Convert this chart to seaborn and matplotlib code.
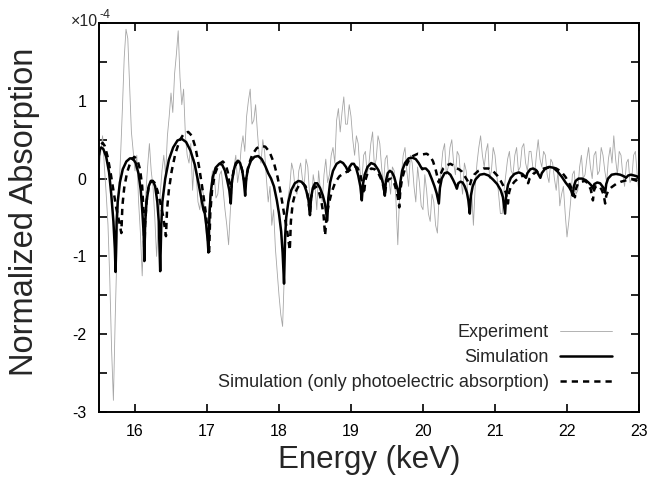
import numpy as np
import pandas as pd
import matplotlib
matplotlib.use('Agg')
import matplotlib.pyplot as plt
import seaborn as sns

# ------------------------------------------------------------
# Data (y values in units of 1e-4)
# ------------------------------------------------------------
exp_energy = [
    15.500, 15.525, 15.550, 15.575, 15.600, 15.625, 15.650, 15.675, 15.700, 15.725,
    15.750, 15.775, 15.800, 15.825, 15.850, 15.875, 15.900, 15.925, 15.950, 15.975,
    16.000, 16.025, 16.050, 16.075, 16.100, 16.125, 16.150, 16.175, 16.200, 16.225,
    16.250, 16.275, 16.300, 16.325, 16.350, 16.375, 16.400, 16.425, 16.450, 16.475,
    16.500, 16.525, 16.550, 16.575, 16.600, 16.625, 16.650, 16.675, 16.700, 16.725,
    16.750, 16.775, 16.800, 16.825, 16.850, 16.875, 16.900, 16.925, 16.950, 16.975,
    17.000, 17.025, 17.050, 17.075, 17.100, 17.125, 17.150, 17.175, 17.200, 17.225,
    17.250, 17.275, 17.300, 17.325, 17.350, 17.375, 17.400, 17.425, 17.450, 17.475,
    17.500, 17.525, 17.550, 17.575, 17.600, 17.625, 17.650, 17.675, 17.700, 17.725,
    17.750, 17.775, 17.800, 17.825, 17.850, 17.875, 17.900, 17.925, 17.950, 17.975,
    18.000, 18.025, 18.050, 18.075, 18.100, 18.125, 18.150, 18.175, 18.200, 18.225,
    18.250, 18.275, 18.300, 18.325, 18.350, 18.375, 18.400, 18.425, 18.450, 18.475,
    18.500, 18.525, 18.550, 18.575, 18.600, 18.625, 18.650, 18.675, 18.700, 18.725,
    18.750, 18.775, 18.800, 18.825, 18.850, 18.875, 18.900, 18.925, 18.950, 18.975,
    19.000, 19.025, 19.050, 19.075, 19.100, 19.125, 19.150, 19.175, 19.200, 19.225,
    19.250, 19.275, 19.300, 19.325, 19.350, 19.375, 19.400, 19.425, 19.450, 19.475,
    19.500, 19.525, 19.550, 19.575, 19.600, 19.625, 19.650, 19.675, 19.700, 19.725,
    19.750, 19.775, 19.800, 19.825, 19.850, 19.875, 19.900, 19.925, 19.950, 19.975,
    20.000, 20.025, 20.050, 20.075, 20.100, 20.125, 20.150, 20.175, 20.200, 20.225,
    20.250, 20.275, 20.300, 20.325, 20.350, 20.375, 20.400, 20.425, 20.450, 20.475,
    20.500, 20.525, 20.550, 20.575, 20.600, 20.625, 20.650, 20.675, 20.700, 20.725,
    20.750, 20.775, 20.800, 20.825, 20.850, 20.875, 20.900, 20.925, 20.950, 20.975,
    21.000, 21.025, 21.050, 21.075, 21.100, 21.125, 21.150, 21.175, 21.200, 21.225,
    21.250, 21.275, 21.300, 21.325, 21.350, 21.375, 21.400, 21.425, 21.450, 21.475,
    21.500, 21.525, 21.550, 21.575, 21.600, 21.625, 21.650, 21.675, 21.700, 21.725,
    21.750, 21.775, 21.800, 21.825, 21.850, 21.875, 21.900, 21.925, 21.950, 21.975,
    22.000, 22.025, 22.050, 22.075, 22.100, 22.125, 22.150, 22.175, 22.200, 22.225,
    22.250, 22.275, 22.300, 22.325, 22.350, 22.375, 22.400, 22.425, 22.450, 22.475,
    22.500, 22.525, 22.550, 22.575, 22.600, 22.625, 22.650, 22.675, 22.700, 22.725,
    22.750, 22.775, 22.800, 22.825, 22.850, 22.875, 22.900, 22.925, 22.950, 22.975,
    23.000,
]
exp_absorption = [
    0.10, 0.35, 0.55, 0.15, -0.20, -0.60, -1.30, -2.20, -2.85, -1.80,
    -0.90, -0.20, 0.30, 0.90, 1.55, 1.92, 1.80, 1.20, 0.60, 0.35,
    0.10, 0.30, -0.30, -0.70, -1.25, -0.60, -0.20, 0.15, 0.45, 0.10,
    -0.10, -0.50, -1.00, -0.55, -0.20, 0.10, 0.30, 0.05, 0.55, 0.80,
    1.10, 0.85, 1.35, 1.60, 1.90, 1.30, 0.95, 1.15, 0.55, 0.30,
    0.20, 0.45, -0.15, 0.25, 0.05, -0.30, -0.40, -0.10, -0.20, -0.55,
    -0.80, -0.40, -0.15, 0.10, 0.05, -0.25, -0.20, 0.05, 0.10, -0.15,
    -0.40, -0.60, -0.85, -0.40, -0.10, 0.15, 0.30, -0.05, 0.10, 0.40,
    0.55, 0.35, 0.80, 1.00, 1.15, 0.70, 0.75, 0.95, 0.60, 0.30,
    0.20, 0.50, 0.35, 0.00, -0.30, -0.10, -0.60, -0.40, -0.90, -1.20,
    -1.50, -1.75, -1.90, -1.20, -0.60, -0.25, -0.10, 0.20, 0.10, -0.15,
    -0.20, 0.10, 0.20, 0.00, -0.10, 0.25, 0.15, -0.20, -0.35, 0.05,
    -0.10, -0.40, 0.10, -0.15, -0.30, 0.05, 0.25, -0.05, 0.05, 0.30,
    0.40, 0.20, 0.75, 0.90, 0.60, 0.85, 1.05, 0.70, 0.70, 0.95,
    0.80, 0.50, 0.30, 0.55, 0.45, 0.10, -0.05, 0.30, 0.35, 0.05,
    0.20, 0.45, 0.60, 0.15, 0.25, 0.55, 0.45, 0.15, -0.10, 0.25,
    0.30, 0.00, -0.20, 0.15, 0.10, -0.30, -0.85, -0.20, 0.05, 0.30,
    0.40, 0.10, -0.10, 0.30, 0.20, -0.10, -0.30, 0.15, -0.05, -0.35,
    -0.40, 0.05, -0.15, -0.45, -0.55, -0.20, -0.30, -0.60, -0.70, -0.20,
    0.10, 0.35, 0.45, 0.05, 0.15, 0.40, 0.50, 0.20, 0.05, 0.35,
    0.30, 0.00, -0.20, 0.20, 0.10, -0.25, -0.40, -0.15, -0.60, -0.10,
    0.20, 0.40, 0.55, 0.30, 0.15, 0.35, 0.45, 0.00, 0.10, 0.40,
    0.30, 0.05, -0.20, -0.45, -0.45, -0.15, 0.05, 0.25, 0.35, 0.10,
    0.05, 0.30, 0.40, 0.10, 0.15, 0.40, 0.45, 0.20, 0.10, 0.35,
    0.35, 0.15, 0.05, 0.30, 0.50, 0.25, 0.15, 0.35, 0.30, 0.05,
    -0.05, 0.25, 0.20, 0.00, -0.15, 0.10, -0.35, -0.20, -0.10, -0.45,
    -0.75, -0.55, -0.30, 0.05, 0.10, -0.20, -0.15, 0.15, 0.30, 0.00,
    0.05, 0.25, 0.40, 0.15, 0.00, 0.30, 0.35, 0.05, 0.10, 0.40,
    0.30, 0.10, -0.05, 0.25, 0.40, 0.20, 0.55, 0.25, 0.05, 0.35,
    0.30, 0.05, -0.10, 0.20, 0.25, -0.05, 0.00, 0.30, 0.35, 0.05,
    -0.20,
]

# (energy, value) pairs for the simulated curves, one arch per line
sim_points = [
    (15.50, 0.36), (15.53, 0.40), (15.56, 0.38), (15.60, 0.28), (15.64, 0.08), (15.67, -0.20), (15.70, -0.55), (15.72, -0.90), (15.73, -1.20),
    (15.745, -0.55), (15.76, -0.30), (15.79, -0.05), (15.83, 0.12), (15.88, 0.22), (15.93, 0.26), (15.97, 0.26), (16.01, 0.20), (16.05, 0.06), (16.08, -0.15), (16.10, -0.40), (16.12, -0.70), (16.13, -1.06),
    (16.14, -0.60), (16.16, -0.30), (16.19, -0.10), (16.22, -0.03), (16.25, -0.03), (16.28, -0.10), (16.31, -0.30), (16.33, -0.55), (16.35, -1.19),
    (16.365, -0.60), (16.38, -0.30), (16.42, 0.00), (16.47, 0.24), (16.53, 0.40), (16.59, 0.49), (16.65, 0.51), (16.71, 0.47), (16.77, 0.36), (16.83, 0.18), (16.88, -0.05), (16.92, -0.25), (16.95, -0.40), (16.97, -0.45), (16.99, -0.60), (17.01, -0.80), (17.02, -0.95),
    (17.035, -0.45), (17.05, -0.20), (17.08, 0.02), (17.12, 0.14), (17.17, 0.19), (17.21, 0.18), (17.25, 0.10), (17.28, -0.02), (17.31, -0.15), (17.33, -0.32),
    (17.345, -0.05), (17.37, 0.10), (17.40, 0.20), (17.43, 0.23), (17.46, 0.20), (17.49, 0.10), (17.51, -0.02), (17.53, -0.22),
    (17.545, 0.00), (17.57, 0.13), (17.61, 0.23), (17.66, 0.28), (17.71, 0.29), (17.76, 0.25), (17.81, 0.16), (17.85, 0.07), (17.89, 0.00), (17.93, -0.10), (17.97, -0.28), (18.00, -0.45), (18.03, -0.68), (18.05, -0.95), (18.07, -1.35),
    (18.085, -0.75), (18.10, -0.50), (18.13, -0.30), (18.17, -0.15), (18.22, -0.06), (18.27, -0.03), (18.31, -0.04), (18.35, -0.08), (18.38, -0.16), (18.41, -0.28), (18.43, -0.47),
    (18.445, -0.25), (18.47, -0.12), (18.50, -0.06), (18.53, -0.06), (18.57, -0.12), (18.61, -0.22), (18.64, -0.33), (18.67, -0.54),
    (18.685, -0.25), (18.71, -0.05), (18.75, 0.10), (18.80, 0.19), (18.85, 0.22), (18.89, 0.20), (18.93, 0.15), (18.96, 0.09),
    (18.98, 0.15), (19.01, 0.19), (19.04, 0.19), (19.07, 0.14), (19.10, 0.04), (19.13, -0.10), (19.15, -0.28),
    (19.165, -0.08), (19.19, 0.05), (19.23, 0.15), (19.28, 0.20), (19.33, 0.18), (19.38, 0.11), (19.42, 0.02), (19.45, -0.08), (19.47, -0.22),
    (19.485, -0.03), (19.51, 0.07), (19.54, 0.10), (19.57, 0.08), (19.60, 0.02), (19.63, -0.08), (19.65, -0.15), (19.67, -0.26),
    (19.685, -0.05), (19.71, 0.10), (19.75, 0.20), (19.80, 0.26), (19.85, 0.27), (19.90, 0.25), (19.94, 0.20), (19.97, 0.15), (19.99, 0.12),
    (20.01, 0.13), (20.04, 0.13), (20.08, 0.09), (20.12, 0.00), (20.16, -0.10), (20.19, -0.19), (20.22, -0.32),
    (20.235, -0.12), (20.26, 0.00), (20.30, 0.07), (20.34, 0.08), (20.38, 0.05), (20.42, -0.02), (20.45, -0.08), (20.47, -0.13),
    (20.49, -0.06), (20.52, -0.04), (20.55, -0.05), (20.58, -0.10), (20.61, -0.18), (20.63, -0.28), (20.65, -0.45),
    (20.665, -0.22), (20.69, -0.10), (20.73, -0.01), (20.79, 0.05), (20.85, 0.06), (20.91, 0.04), (20.97, -0.01), (21.03, -0.07), (21.08, -0.15), (21.11, -0.24), (21.14, -0.45),
    (21.155, -0.22), (21.18, -0.08), (21.22, 0.01), (21.27, 0.06), (21.33, 0.08), (21.38, 0.06), (21.41, 0.03), (21.43, 0.01),
    (21.45, 0.07), (21.49, 0.12), (21.53, 0.13), (21.57, 0.11), (21.60, 0.06), (21.63, 0.01),
    (21.65, 0.07), (21.69, 0.12), (21.75, 0.15), (21.81, 0.14), (21.87, 0.09), (21.93, 0.02), (21.98, -0.05), (22.03, -0.11), (22.06, -0.16), (22.08, -0.22),
    (22.095, -0.10), (22.12, -0.03), (22.16, 0.00), (22.21, 0.00), (22.26, -0.02), (22.31, -0.06), (22.34, -0.09), (22.36, -0.13),
    (22.38, -0.07), (22.42, -0.05), (22.46, -0.06), (22.50, -0.11), (22.53, -0.18),
    (22.545, -0.07), (22.57, 0.00), (22.62, 0.05), (22.68, 0.06), (22.74, 0.05), (22.79, 0.03), (22.82, 0.01),
    (22.85, 0.04), (22.89, 0.05), (22.93, 0.04), (22.97, 0.03), (23.00, 0.00),
]

photo_points = [
    (15.50, 0.30), (15.52, 0.42), (15.55, 0.46), (15.58, 0.42), (15.62, 0.28), (15.66, 0.08), (15.70, -0.15), (15.74, -0.38), (15.78, -0.55), (15.81, -0.70),
    (15.825, -0.35), (15.85, -0.12), (15.89, 0.08), (15.94, 0.22), (15.99, 0.28), (16.03, 0.25), (16.07, 0.12), (16.10, -0.10), (16.12, -0.45), (16.13, -1.00),
    (16.14, -0.60), (16.16, -0.30), (16.19, -0.10), (16.23, -0.03), (16.27, -0.05), (16.31, -0.15), (16.35, -0.30), (16.39, -0.48), (16.43, -0.74),
    (16.445, -0.40), (16.47, -0.15), (16.51, 0.10), (16.56, 0.32), (16.62, 0.49), (16.68, 0.58), (16.74, 0.60), (16.79, 0.55), (16.84, 0.40), (16.89, 0.15), (16.94, -0.15), (16.98, -0.42), (17.01, -0.68), (17.03, -0.94),
    (17.045, -0.45), (17.07, -0.15), (17.11, 0.06), (17.16, 0.18), (17.22, 0.22), (17.26, 0.18), (17.29, 0.08), (17.31, -0.05), (17.33, -0.20),
    (17.35, 0.00), (17.38, 0.14), (17.41, 0.20), (17.44, 0.22), (17.47, 0.18), (17.50, 0.06), (17.53, -0.10),
    (17.55, 0.05), (17.58, 0.18), (17.63, 0.31), (17.69, 0.39), (17.75, 0.42), (17.81, 0.41), (17.87, 0.34), (17.93, 0.20), (17.98, 0.02), (18.03, -0.22), (18.07, -0.45), (18.11, -0.65), (18.15, -0.92),
    (18.165, -0.55), (18.19, -0.32), (18.23, -0.17), (18.28, -0.08), (18.33, -0.06), (18.37, -0.10), (18.40, -0.22), (18.43, -0.45),
    (18.445, -0.25), (18.47, -0.14), (18.51, -0.10), (18.55, -0.15), (18.59, -0.30), (18.62, -0.48), (18.64, -0.73),
    (18.66, -0.50), (18.69, -0.33), (18.73, -0.18), (18.78, -0.05), (18.84, 0.03), (18.90, 0.07), (18.95, 0.09), (19.00, 0.12), (19.05, 0.16), (19.09, 0.14), (19.13, 0.05), (19.16, -0.08), (19.18, -0.20),
    (19.20, -0.02), (19.23, 0.07), (19.28, 0.13), (19.33, 0.12), (19.38, 0.07), (19.42, -0.01), (19.45, -0.10), (19.47, -0.20),
    (19.49, -0.07), (19.52, -0.01), (19.56, 0.00), (19.60, -0.06), (19.63, -0.15), (19.65, -0.24), (19.67, -0.37),
    (19.685, -0.15), (19.71, 0.00), (19.75, 0.13), (19.80, 0.23), (19.86, 0.29), (19.93, 0.32), (19.99, 0.31), (20.05, 0.32), (20.10, 0.29), (20.14, 0.22), (20.18, 0.10), (20.20, 0.02), (20.22, -0.05),
    (20.24, 0.05), (20.28, 0.13), (20.33, 0.17), (20.38, 0.19), (20.42, 0.17), (20.45, 0.15), (20.47, 0.13),
    (20.50, 0.12), (20.54, 0.09), (20.58, 0.03), (20.62, -0.03), (20.65, -0.09),
    (20.67, -0.02), (20.71, 0.05), (20.77, 0.10), (20.84, 0.13), (20.91, 0.13), (20.97, 0.10), (21.03, 0.04), (21.08, -0.03), (21.12, -0.10), (21.15, -0.18), (21.18, -0.32),
    (21.195, -0.18), (21.22, -0.10), (21.27, -0.04), (21.33, 0.01), (21.39, 0.04), (21.43, 0.02), (21.46, -0.06),
    (21.48, 0.00), (21.53, 0.06), (21.60, 0.10), (21.68, 0.13), (21.77, 0.15), (21.85, 0.13), (21.92, 0.09), (21.98, 0.02), (22.03, -0.06), (22.07, -0.14), (22.11, -0.24),
    (22.125, -0.13), (22.15, -0.07), (22.20, -0.04), (22.25, -0.03), (22.29, -0.06), (22.33, -0.14), (22.36, -0.28),
    (22.375, -0.15), (22.40, -0.10), (22.44, -0.09), (22.48, -0.14), (22.51, -0.21), (22.53, -0.32),
    (22.545, -0.22), (22.57, -0.16), (22.62, -0.11), (22.68, -0.07), (22.75, -0.04), (22.83, -0.02), (22.91, -0.01), (22.97, -0.03), (23.00, -0.05),
]

x_ticks = [16, 17, 18, 19, 20, 21, 22, 23]
y_label_ticks = [-3, -2, -1, 0, 1]
series_labels = ['Experiment', 'Simulation', 'Simulation (only photoelectric absorption)']

exp_df = pd.DataFrame({'Energy': exp_energy, 'Absorption': exp_absorption})
sim_df = pd.DataFrame(sim_points, columns=['Energy', 'Absorption'])
photo_df = pd.DataFrame(photo_points, columns=['Energy', 'Absorption'])

# ------------------------------------------------------------
# Style
# ------------------------------------------------------------
sns.set_style('ticks')
plt.rcParams['font.family'] = ['Liberation Sans', 'DejaVu Sans']
plt.rcParams['axes.unicode_minus'] = False

fig = plt.figure(figsize=(6.52, 4.78), dpi=100)
ax = fig.add_axes([99 / 652, 1 - 412 / 478, 540 / 652, 389 / 478])

sns.lineplot(data=exp_df, x='Energy', y='Absorption', ax=ax, color='#a6a6a6',
             linewidth=0.6, estimator=None, errorbar=None, label=series_labels[0])
sns.lineplot(data=sim_df, x='Energy', y='Absorption', ax=ax, color='black',
             linewidth=1.8, estimator=None, errorbar=None, label=series_labels[1])
sns.lineplot(data=photo_df, x='Energy', y='Absorption', ax=ax, color='black',
             linewidth=1.8, estimator=None, errorbar=None,
             linestyle=(0, (2.5, 2.0)), label=series_labels[2])

ax.set_xlim(15.5, 23)
ax.set_ylim(-3, 2)

ax.set_xticks(x_ticks)
ax.set_xticklabels([str(t) for t in x_ticks])
y_all = np.arange(-3, 2.01, 0.5)
ax.set_yticks(y_all)
ax.set_yticklabels([str(int(t)) if t in y_label_ticks else '' for t in y_all])

ax.tick_params(direction='in', length=6, width=1.2, top=True, right=True,
               labelsize=11.5, pad=9, colors='black')
for sp in ax.spines.values():
    sp.set_linewidth(1.4)
    sp.set_color('black')

ax.set_xlabel('Energy (keV)', fontsize=22.5, labelpad=4)
ax.set_ylabel('Normalized Absorption', fontsize=23.5)
ax.yaxis.set_label_coords(-0.109, 0.514)

# multiplier text at top-left of the axis
fig.text(98 / 652, 1 - 26 / 478, '\u00d710', fontsize=11.5, ha='right', va='baseline')
fig.text(99 / 652, 1 - 18 / 478, '-4', fontsize=9, ha='left', va='baseline')

leg = ax.legend(loc='lower right', bbox_to_anchor=(0.95, 0.053), frameon=False,
                markerfirst=False, fontsize=13, handlelength=2.9,
                handletextpad=0.6, labelspacing=0.45, borderpad=0, borderaxespad=0)

fig.savefig('out.png', dpi=100)
